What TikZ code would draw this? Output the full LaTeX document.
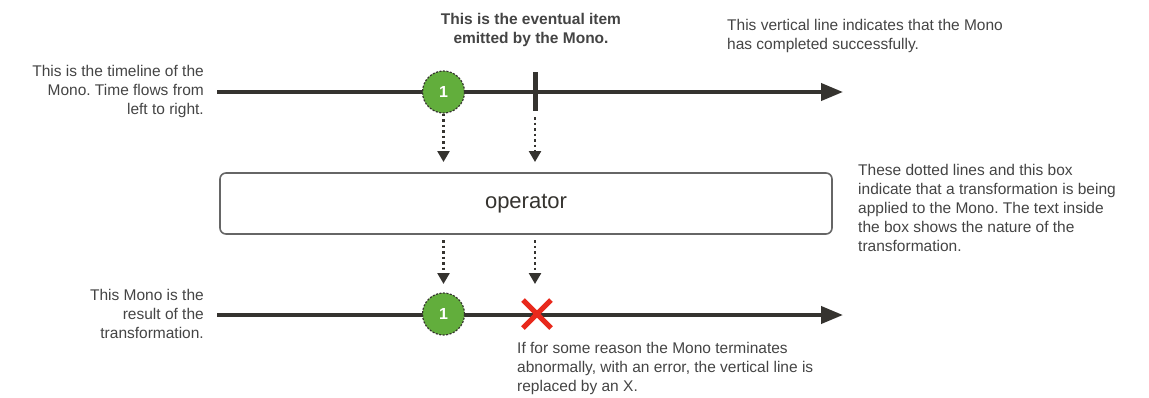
\documentclass[tikz,border=0pt]{standalone}
\usepackage{fontspec}
\setmainfont{Liberation Sans}
\usetikzlibrary{arrows.meta}
\definecolor{txt}{HTML}{444444}
\definecolor{linec}{HTML}{35332F}
\definecolor{marblegreen}{HTML}{62AE3C}
\definecolor{errred}{HTML}{E8291C}
\definecolor{boxc}{HTML}{666666}
\tikzset{
  note/.style={text=txt, font=\fontsize{15.5}{19}\selectfont, inner sep=0pt},
  timeline/.style={draw=linec, line width=4pt, -{Triangle[length=22pt,width=17pt]}},
  marble/.style={circle, draw=linec, dash pattern=on 2pt off 1.5pt, line width=1.2pt, fill=marblegreen, minimum size=42pt, inner sep=0pt, text=white, font=\fontsize{16}{16}\selectfont\bfseries},
  flowarrow/.style={draw=linec, line width=2.5pt, dash pattern=on 2.5pt off 3pt, -{Triangle[length=11pt,width=12pt]}},
  opbox/.style={draw=boxc, line width=1.6pt, rounded corners=6pt, fill=white, minimum width=612pt, minimum height=61pt, font=\fontsize{22}{22}\selectfont, text=linec},
  completion/.style={draw=linec, line width=5pt},
  errx/.style={draw=errred, line width=5pt}
}
\begin{document}
\frenchspacing
\begin{tikzpicture}[x=1pt,y=-1pt]
\useasboundingbox (0,0) rectangle (1149,397);
% top timeline
\coordinate (t1s) at (217,92);
\coordinate (t1e) at (843,92);
\draw[timeline] (t1s) -- (t1e);
\node[marble] (m1) at (443.5,92) {1};
\coordinate (cTop) at (535,72);
\coordinate (cBot) at (535,111);
\draw[completion] (cTop) -- (cBot);
% operator box
\node[opbox] (op) at (526,203.5) {operator};
% top flow arrows
\coordinate (a1e) at (443.5,162);
\coordinate (a2s) at (535,117);
\coordinate (a2e) at (535,162);
\draw[flowarrow] (m1.south) -- (a1e);
\draw[flowarrow] (a2s) -- (a2e);
% bottom timeline
\coordinate (t2s) at (217,315);
\coordinate (t2e) at (843,315);
\draw[timeline] (t2s) -- (t2e);
\node[marble] (m2) at (443.5,314) {1};
\coordinate (err) at (537,314);
\draw[errx] ([shift={(-14,-14)}]err) -- ([shift={(14,14)}]err);
\draw[errx] ([shift={(-14,14)}]err) -- ([shift={(14,-14)}]err);
% bottom flow arrows
\coordinate (b1s) at (443.5,240);
\coordinate (b1e) at (443.5,284);
\coordinate (b2s) at (535,240);
\coordinate (b2e) at (535,284);
\draw[flowarrow] (b1s) -- (b1e);
\draw[flowarrow] (b2s) -- (b2e);
% notes
\node[note, anchor=east, align=right] (n1) at (204,91) {This is the timeline of the\\Mono. Time flows from\\left to right.};
\node[note, align=center, font=\fontsize{15.5}{19}\selectfont\bfseries] (n2) at (531,30) {This is the eventual item\\emitted by the Mono.};
\node[note, anchor=west, align=left] (n3) at (727,36) {This vertical line indicates that the Mono\\has completed successfully.};
\node[note, anchor=west, align=left] (n4) at (858,208) {These dotted lines and this box\\indicate that a transformation is being\\applied to the Mono. The text inside\\the box shows the nature of the\\transformation.};
\node[note, anchor=east, align=right] (n5) at (204,314) {This Mono is the\\result of the\\transformation.};
\node[note, anchor=west, align=left] (n6) at (517,368) {If for some reason the Mono terminates\\abnormally, with an error, the vertical line is\\replaced by an X.};
\end{tikzpicture}
\end{document}
